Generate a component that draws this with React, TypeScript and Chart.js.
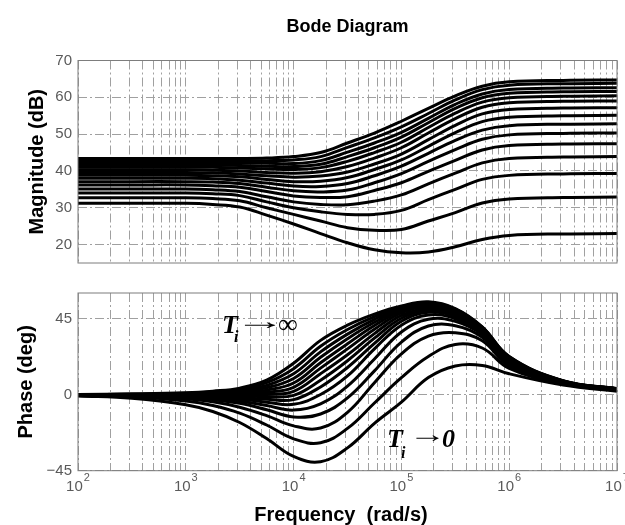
import React, { useEffect, useRef } from 'react';
import { Chart, registerables } from 'chart.js';

Chart.register(...registerables);

// Frequencies (rad/s) at which the curves are sampled
const FREQ = [100, 316, 1000, 1778, 3162, 5623, 10000, 17783, 31623, 56234, 100000, 177828, 316228, 562341, 1000000, 3162278, 10000000];

// Magnitude (dB), from Ti -> infinity (top) to Ti -> 0 (bottom)
const MAG_01 = [43.4, 43.4, 43.4, 43.4, 43.4, 43.5, 43.9, 45.0, 47.6, 50.3, 53.5, 57.0, 60.4, 63.0, 64.2, 64.6, 64.7];
const MAG_02 = [42.8, 42.8, 42.8, 42.8, 42.8, 42.8, 43.0, 43.9, 46.4, 49.0, 52.0, 55.6, 59.3, 62.1, 63.3, 63.7, 63.8];
const MAG_03 = [42.2, 42.2, 42.2, 42.2, 42.2, 42.1, 42.0, 42.8, 45.1, 47.6, 50.5, 54.3, 58.1, 60.9, 62.1, 62.5, 62.6];
const MAG_04 = [41.6, 41.6, 41.6, 41.6, 41.5, 41.3, 41.2, 41.8, 43.9, 46.3, 49.2, 53.1, 57.0, 59.9, 61.1, 61.5, 61.6];
const MAG_05 = [41.0, 41.0, 41.0, 41.0, 40.8, 40.6, 40.4, 40.9, 42.6, 45.0, 47.8, 51.8, 55.7, 58.7, 59.9, 60.3, 60.4];
const MAG_06 = [40.3, 40.3, 40.3, 40.2, 40.0, 39.6, 39.4, 39.8, 41.2, 43.5, 46.3, 50.3, 54.2, 57.3, 58.5, 58.9, 59.0];
const MAG_07 = [39.6, 39.6, 39.6, 39.5, 39.2, 38.7, 38.3, 38.6, 39.7, 41.9, 44.6, 48.5, 52.4, 55.5, 56.7, 57.1, 57.2];
const MAG_08 = [38.8, 38.8, 38.8, 38.7, 38.4, 37.7, 37.1, 37.2, 38.2, 40.4, 43.0, 46.7, 50.4, 53.4, 54.6, 55.0, 55.1];
const MAG_09 = [38.0, 38.0, 38.0, 37.9, 37.5, 36.7, 35.9, 35.8, 36.6, 38.7, 41.3, 44.8, 48.3, 51.1, 52.3, 52.7, 52.8];
const MAG_10 = [37.1, 37.1, 37.1, 37.0, 36.6, 35.6, 34.6, 34.3, 34.8, 36.8, 39.3, 42.6, 45.8, 48.6, 49.8, 50.2, 50.3];
const MAG_11 = [36.2, 36.2, 36.2, 36.0, 35.6, 34.4, 33.2, 32.8, 33.0, 34.7, 36.8, 39.9, 42.9, 45.7, 46.9, 47.3, 47.4];
const MAG_12 = [35.1, 35.1, 35.1, 34.9, 34.4, 33.0, 31.6, 30.9, 30.8, 31.8, 33.5, 36.5, 39.4, 42.2, 43.4, 43.8, 43.9];
const MAG_13 = [34.0, 34.0, 34.0, 33.8, 33.3, 31.6, 30.0, 28.9, 28.2, 28.2, 29.3, 32.2, 35.0, 37.7, 38.8, 39.2, 39.3];
const MAG_14 = [32.7, 32.7, 32.7, 32.5, 31.9, 30.0, 28.2, 26.4, 24.6, 23.9, 24.1, 26.4, 28.7, 31.3, 32.4, 32.8, 32.9];
const MAG_15 = [31.2, 31.2, 31.2, 30.9, 30.2, 28.0, 25.6, 23.0, 20.5, 18.6, 17.8, 18.0, 19.4, 21.4, 22.5, 22.9, 23.0];

// Phase (deg), same order
const PHASE_01 = [0, 0.3, 1.0, 2.0, 3.8, 8.5, 18.5, 32.0, 41.0, 47.5, 52.3, 54.8, 50.8, 40.0, 22.5, 8.2, 3.5];
const PHASE_02 = [0, 0.2, 0.8, 1.5, 3.0, 7.0, 15.3, 28.5, 38.4, 46.0, 51.8, 54.4, 50.5, 39.8, 22.3, 8.1, 3.4];
const PHASE_03 = [0, 0.2, 0.6, 1.1, 2.3, 5.4, 12.3, 25.2, 35.7, 44.4, 51.1, 54.0, 50.1, 39.5, 22.1, 8.0, 3.4];
const PHASE_04 = [0, 0.1, 0.4, 0.8, 1.6, 4.0, 9.5, 22.0, 33.0, 42.7, 50.4, 53.4, 49.6, 39.2, 21.9, 7.9, 3.3];
const PHASE_05 = [0, 0, 0.2, 0.4, 1.0, 2.6, 6.8, 18.8, 30.0, 40.8, 49.4, 52.8, 49.1, 38.9, 21.6, 7.8, 3.3];
const PHASE_06 = [0, 0, 0.1, 0.1, 0.4, 1.3, 4.3, 15.6, 27.0, 38.6, 48.2, 51.9, 48.4, 38.5, 21.3, 7.7, 3.2];
const PHASE_07 = [0, -0.1, -0.1, -0.2, -0.2, 0, 1.9, 12.3, 23.5, 36.0, 46.8, 50.9, 47.7, 38.1, 20.9, 7.6, 3.2];
const PHASE_08 = [0, -0.1, -0.3, -0.5, -0.8, -1.3, -0.5, 8.5, 20.0, 33.3, 45.1, 49.8, 46.8, 37.6, 20.5, 7.5, 3.1];
const PHASE_09 = [0, -0.2, -0.5, -0.9, -1.6, -2.8, -3.0, 4.5, 16.0, 30.2, 43.3, 48.6, 45.9, 37.0, 20.0, 7.4, 3.0];
const PHASE_10 = [-0.1, -0.3, -0.8, -1.4, -2.6, -4.5, -5.8, 0, 11.0, 27.0, 41.0, 47.0, 44.8, 36.3, 19.4, 7.3, 3.0];
const PHASE_11 = [-0.1, -0.4, -1.2, -2.1, -3.8, -6.5, -9.2, -5.5, 5.0, 21.0, 37.0, 44.5, 43.2, 35.3, 18.7, 7.1, 2.9];
const PHASE_12 = [-0.2, -0.6, -1.7, -3.0, -5.2, -9.0, -13.2, -11.5, -2.0, 14.0, 31.0, 40.5, 40.7, 33.9, 17.9, 6.9, 2.8];
const PHASE_13 = [-0.3, -0.9, -2.5, -4.3, -7.5, -12.5, -18.5, -19.8, -10.5, 7.0, 24.0, 34.5, 36.5, 31.8, 16.9, 6.7, 2.6];
const PHASE_14 = [-0.5, -1.3, -3.8, -6.5, -11.0, -18.0, -26.2, -28.5, -20.0, -5.0, 10.0, 22.5, 29.6, 27.5, 15.5, 6.3, 2.4];
const PHASE_15 = [-0.8, -2.2, -6.0, -10.0, -16.5, -26.0, -36.6, -39.7, -31.5, -17.0, -4.5, 10.0, 16.9, 17.2, 12.3, 5.6, 2.0];

const MAG_SERIES = [MAG_01, MAG_02, MAG_03, MAG_04, MAG_05, MAG_06, MAG_07, MAG_08, MAG_09, MAG_10, MAG_11, MAG_12, MAG_13, MAG_14, MAG_15];
const PHASE_SERIES = [PHASE_01, PHASE_02, PHASE_03, PHASE_04, PHASE_05, PHASE_06, PHASE_07, PHASE_08, PHASE_09, PHASE_10, PHASE_11, PHASE_12, PHASE_13, PHASE_14, PHASE_15];

// Axis ticks
const MAG_TICKS = [20, 30, 40, 50, 60, 70];
const PHASE_TICKS = [-45, 0, 45];
const DECADES = [100, 1000, 10000, 100000, 1000000, 10000000];
const DECADE_EXPONENTS = ['2', '3', '4', '5', '6', '7'];
const MINOR_MULTIPLIERS = [1, 2, 3, 4, 5, 6, 7, 8, 9];

// Text
const TITLE = 'Bode Diagram';
const MAG_LABEL = 'Magnitude (dB)';
const PHASE_LABEL = 'Phase (deg)';
const X_LABEL = 'Frequency  (rad/s)';

// Layout
const W = 625;
const TOP_H = 278;
const BOT_H = 247;
const PLOT_LEFT = 78;
const PLOT_RIGHT = 617;
const MAG_TOP = 60.5;
const MAG_BOTTOM = 269.5;
const PH_TOP = 284 - TOP_H;
const PH_BOTTOM = 470.7 - TOP_H;

const GRID_COLOR = '#a0a0a0';
const GRID_DASH = [9, 3, 2, 3];
const TICK_COLOR = '#5a5a5a';
const BOX_COLOR = '#7d7d7d';
const SANS = '"Liberation Sans", Arial, Helvetica, sans-serif';
const SERIF = '"Liberation Serif", "Times New Roman", serif';

const X_GRID: number[] = [];
DECADES.slice(0, -1).forEach((d) => MINOR_MULTIPLIERS.forEach((m) => X_GRID.push(m * d)));
X_GRID.push(DECADES[DECADES.length - 1]);

function makeDatasets(series: number[][]) {
  return series.map((s) => ({
    data: FREQ.map((f, i) => ({ x: f, y: s[i] })),
    borderColor: '#000',
    borderWidth: 3,
    pointRadius: 0,
    fill: false,
    tension: 0.4,
  }));
}

function xScale() {
  return {
    type: 'logarithmic' as const,
    min: 100,
    max: 10000000,
    ticks: { display: false },
    grid: { color: GRID_COLOR, lineWidth: 1, drawTicks: false },
    border: { display: false, dash: GRID_DASH },
    afterBuildTicks: (s: any) => {
      s.ticks = X_GRID.map((v) => ({ value: v }));
    },
    afterFit: (s: any) => {
      s.height = 0;
    },
  };
}

function yScale(min: number, max: number, ticks: number[]) {
  return {
    min,
    max,
    ticks: {
      color: TICK_COLOR,
      font: { family: SANS, size: 15 },
      padding: 6,
      callback: (v: any) => (Number(v) < 0 ? '\u2212' + Math.abs(Number(v)) : String(v)),
    },
    grid: { color: GRID_COLOR, lineWidth: 1, drawTicks: false },
    border: { display: false, dash: GRID_DASH },
    afterBuildTicks: (s: any) => {
      s.ticks = ticks.map((v) => ({ value: v }));
    },
    afterFit: (s: any) => {
      s.width = PLOT_LEFT;
    },
  };
}

const boxPlugin = {
  id: 'box',
  afterDraw(chart: any) {
    const { ctx, chartArea } = chart;
    ctx.save();
    ctx.strokeStyle = BOX_COLOR;
    ctx.lineWidth = 1;
    ctx.setLineDash([]);
    ctx.strokeRect(chartArea.left, chartArea.top, chartArea.right - chartArea.left, chartArea.bottom - chartArea.top);
    ctx.restore();
  },
};

function drawRotated(ctx: CanvasRenderingContext2D, text: string, x: number, y: number) {
  ctx.save();
  ctx.translate(x, y);
  ctx.rotate(-Math.PI / 2);
  ctx.textAlign = 'center';
  ctx.textBaseline = 'middle';
  ctx.fillText(text, 0, 0);
  ctx.restore();
}

const topTextPlugin = {
  id: 'topText',
  afterDraw(chart: any) {
    const { ctx, chartArea } = chart;
    ctx.save();
    ctx.fillStyle = '#000';
    ctx.font = `bold 18px ${SANS}`;
    ctx.textAlign = 'center';
    ctx.textBaseline = 'middle';
    ctx.fillText(TITLE, (chartArea.left + chartArea.right) / 2, 27);
    ctx.font = `bold 20px ${SANS}`;
    drawRotated(ctx, MAG_LABEL, 37, (chartArea.top + chartArea.bottom) / 2);
    ctx.restore();
  },
};

// draw text so that its ink starts at inkLeft, with given baseline
function inkText(ctx: CanvasRenderingContext2D, text: string, font: string, inkLeft: number, baseline: number) {
  ctx.font = font;
  ctx.textAlign = 'left';
  ctx.textBaseline = 'alphabetic';
  const m = ctx.measureText(text);
  ctx.fillText(text, inkLeft + m.actualBoundingBoxLeft, baseline);
}

// draw text fitted horizontally into [l, r], vertically centred on cy
function inkFit(ctx: CanvasRenderingContext2D, text: string, font: string, l: number, r: number, cy: number, uniform: boolean) {
  ctx.font = font;
  ctx.textAlign = 'left';
  ctx.textBaseline = 'alphabetic';
  const m = ctx.measureText(text);
  const inkW = m.actualBoundingBoxLeft + m.actualBoundingBoxRight;
  const sx = (r - l) / inkW;
  const sy = uniform ? sx : 1;
  const asc = m.actualBoundingBoxAscent;
  const desc = m.actualBoundingBoxDescent;
  ctx.save();
  ctx.translate(l, cy);
  ctx.scale(sx, sy);
  ctx.fillText(text, m.actualBoundingBoxLeft, (asc - desc) / 2);
  ctx.restore();
}

const bottomTextPlugin = {
  id: 'bottomText',
  afterDraw(chart: any) {
    const { ctx, chartArea, scales } = chart;
    ctx.save();
    ctx.fillStyle = '#000';
    ctx.font = `bold 20px ${SANS}`;
    drawRotated(ctx, PHASE_LABEL, 26, (chartArea.top + chartArea.bottom) / 2);
    ctx.textAlign = 'center';
    ctx.textBaseline = 'middle';
    ctx.fillText(X_LABEL, 341, 515 - TOP_H);

    // decade labels 10^n
    ctx.fillStyle = TICK_COLOR;
    ctx.textBaseline = 'alphabetic';
    ctx.textAlign = 'left';
    DECADES.forEach((d, i) => {
      const px = scales.x.getPixelForValue(d);
      ctx.font = `15px ${SANS}`;
      const w1 = ctx.measureText('10').width;
      ctx.font = `11px ${SANS}`;
      const w2 = ctx.measureText(DECADE_EXPONENTS[i]).width;
      const start = px - (w1 + w2 + 1) / 2;
      ctx.font = `15px ${SANS}`;
      ctx.fillText('10', start, 490.5 - TOP_H);
      ctx.font = `11px ${SANS}`;
      ctx.fillText(DECADE_EXPONENTS[i], start + w1 + 1, 480.5 - TOP_H);
    });

    // annotations
    ctx.fillStyle = '#000';
    const o = TOP_H;
    const bigT = `italic bold 26px ${SERIF}`;
    const subI = `italic bold 16px ${SERIF}`;
    // T_i -> infinity
    inkText(ctx, 'T', bigT, 223, 333 - o);
    inkText(ctx, 'i', subI, 234, 341.5 - o);
    inkFit(ctx, '\u2192', `24px ${SERIF}`, 243, 277, 325 - o, false);
    inkFit(ctx, '\u221e', `26px ${SERIF}`, 278, 297, 325.5 - o, true);
    // T_i -> 0
    inkText(ctx, 'T', bigT, 388, 446.5 - o);
    inkText(ctx, 'i', subI, 401, 457.5 - o);
    inkFit(ctx, '\u2192', `24px ${SERIF}`, 415, 440, 438 - o, false);
    inkText(ctx, '0', bigT, 442, 446.5 - o);
    ctx.restore();
  },
};

export default function App() {
  const topRef = useRef<HTMLCanvasElement>(null);
  const botRef = useRef<HTMLCanvasElement>(null);

  useEffect(() => {
    const common = {
      responsive: false,
      animation: false as const,
      devicePixelRatio: 1,
      plugins: { legend: { display: false }, tooltip: { enabled: false }, title: { display: false } },
    };
    const top = new Chart(topRef.current as HTMLCanvasElement, {
      type: 'line',
      data: { datasets: makeDatasets(MAG_SERIES) as any },
      options: {
        ...common,
        layout: { padding: { left: 0, right: W - PLOT_RIGHT, top: MAG_TOP, bottom: TOP_H - MAG_BOTTOM } },
        scales: { x: xScale() as any, y: yScale(15, 70, MAG_TICKS) as any },
      } as any,
      plugins: [boxPlugin, topTextPlugin],
    });
    const bot = new Chart(botRef.current as HTMLCanvasElement, {
      type: 'line',
      data: { datasets: makeDatasets(PHASE_SERIES) as any },
      options: {
        ...common,
        layout: { padding: { left: 0, right: W - PLOT_RIGHT, top: PH_TOP, bottom: BOT_H - PH_BOTTOM } },
        scales: { x: xScale() as any, y: yScale(-45, 60, PHASE_TICKS) as any },
      } as any,
      plugins: [boxPlugin, bottomTextPlugin],
    });
    return () => {
      top.destroy();
      bot.destroy();
    };
  }, []);

  return (
    <div style={{ position: 'absolute', left: 0, top: 0, width: W, height: 525, background: '#fff', overflow: 'hidden' }}>
      <canvas ref={topRef} width={W} height={TOP_H} style={{ position: 'absolute', left: 0, top: 0, width: W, height: TOP_H }} />
      <canvas ref={botRef} width={W} height={BOT_H} style={{ position: 'absolute', left: 0, top: TOP_H, width: W, height: BOT_H }} />
    </div>
  );
}
